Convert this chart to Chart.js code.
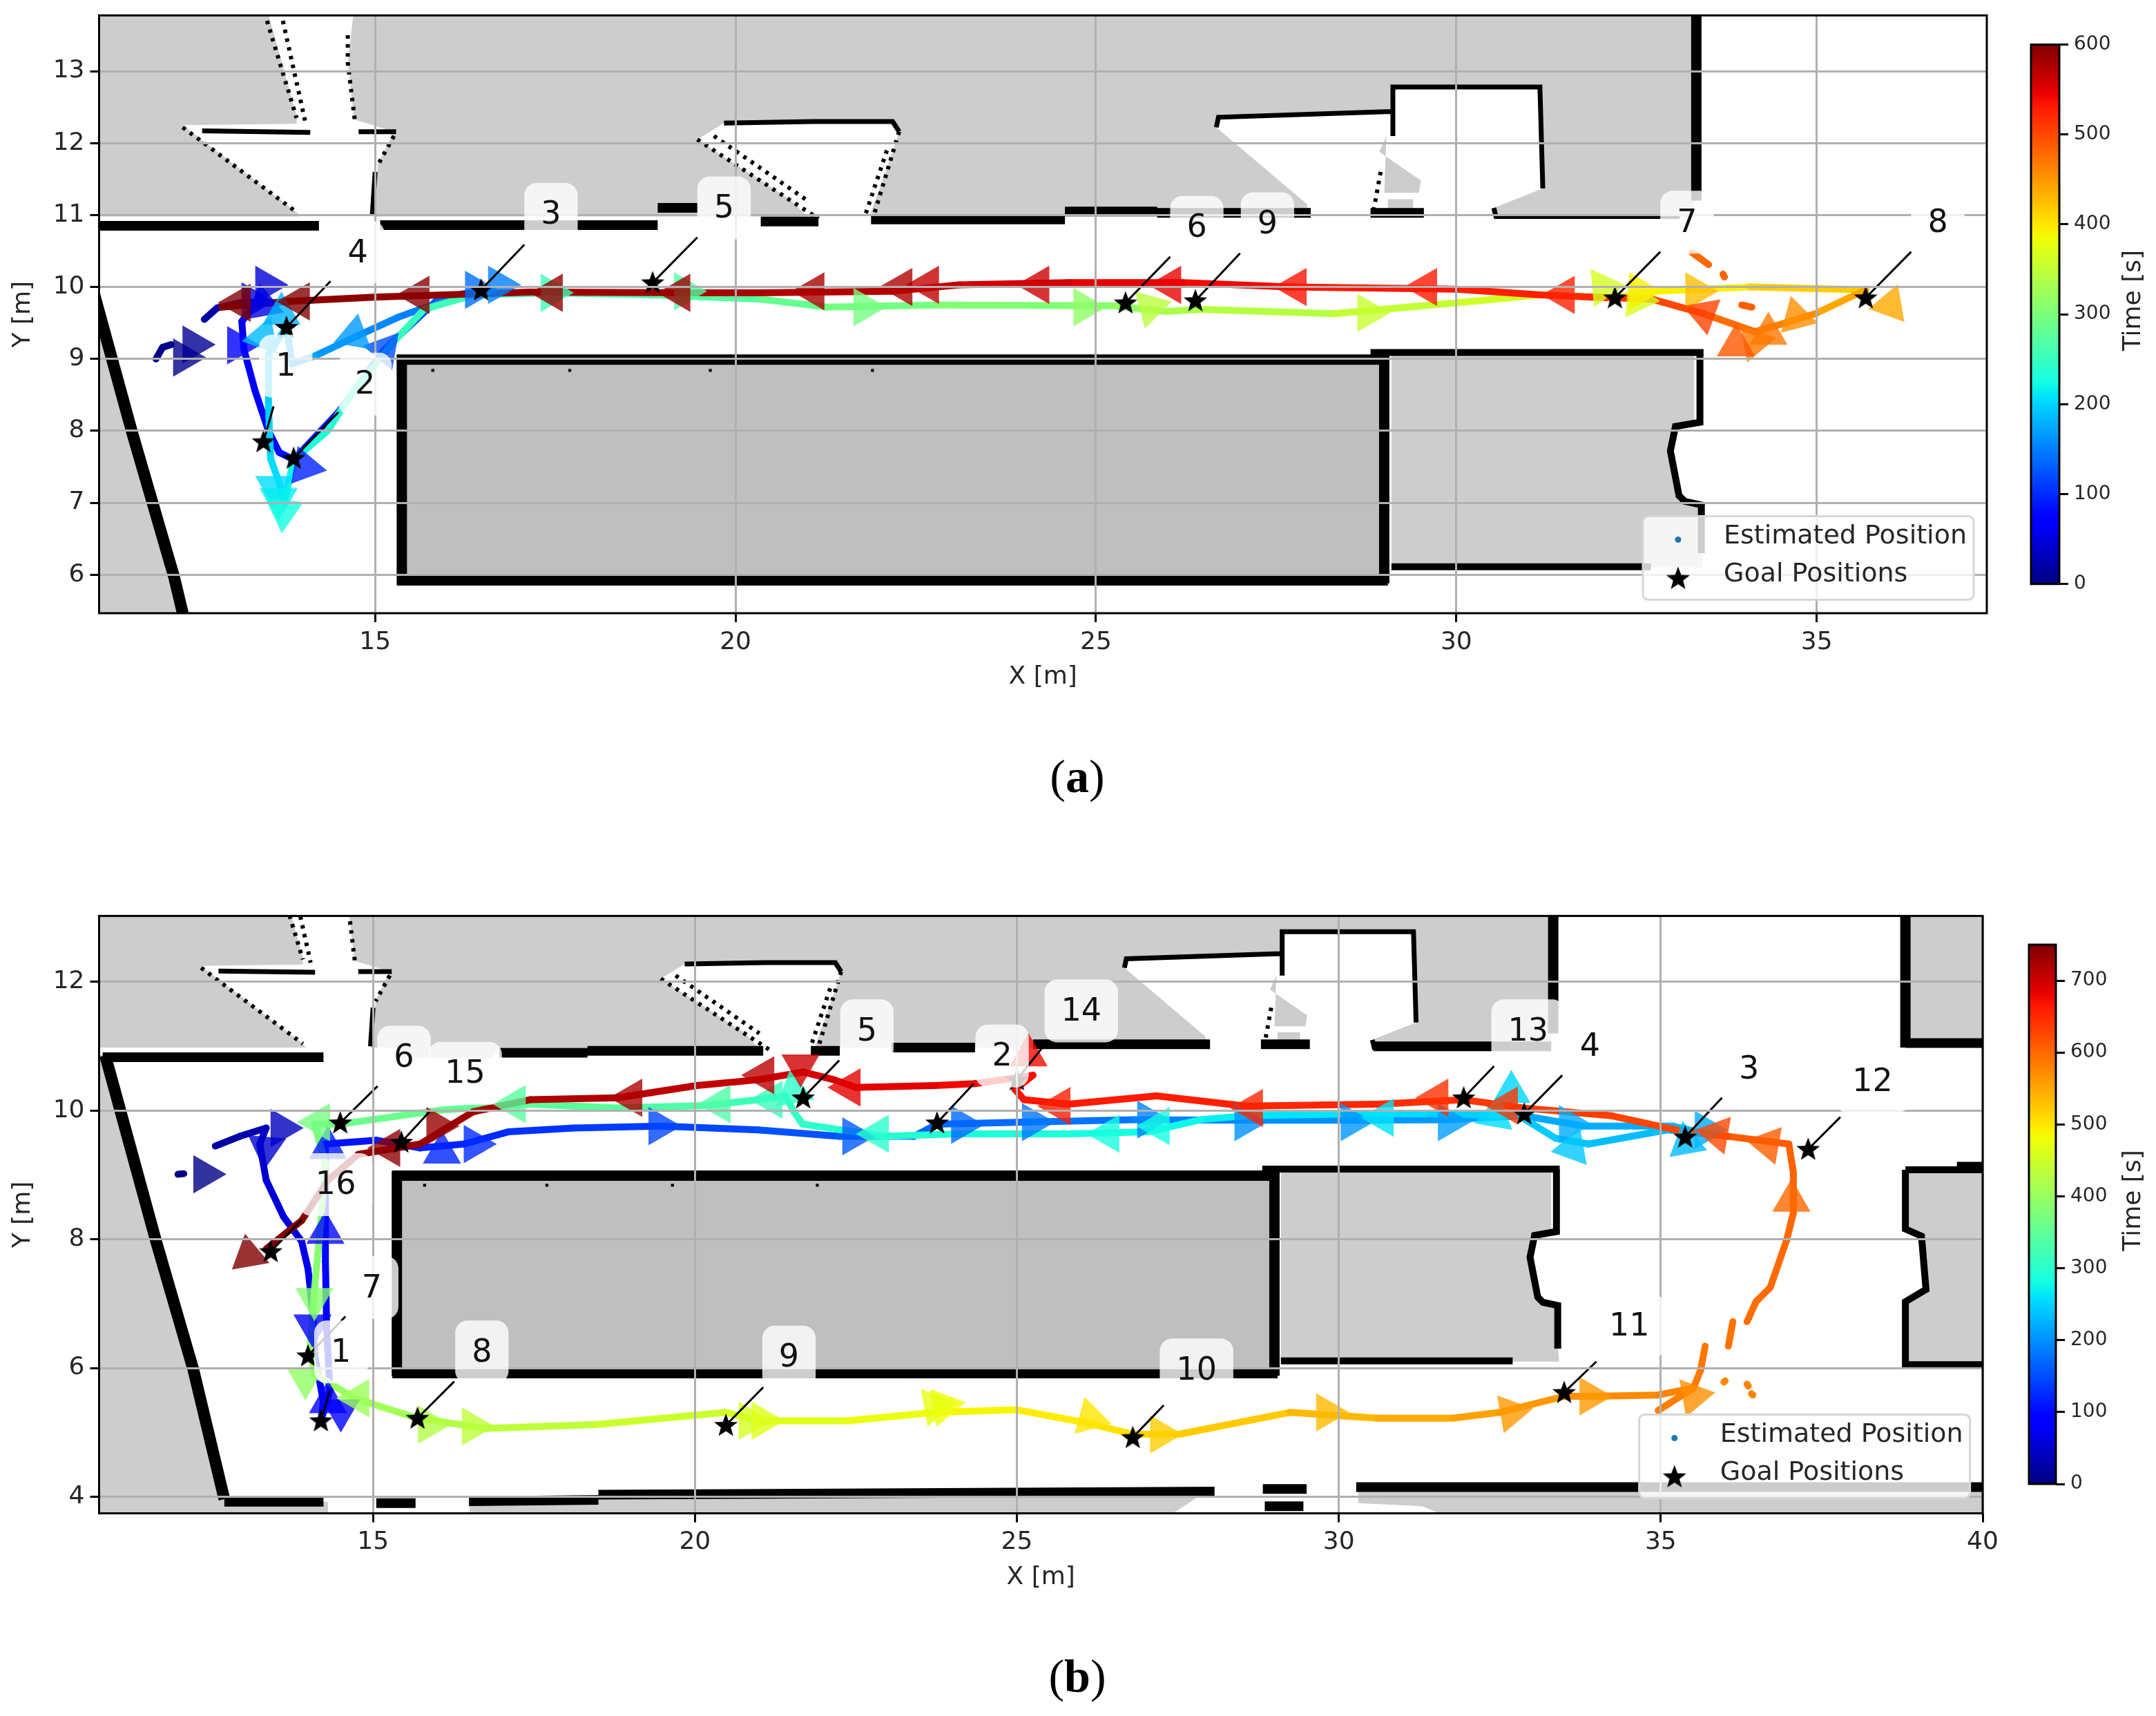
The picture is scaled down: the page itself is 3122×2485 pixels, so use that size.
<!DOCTYPE html>
<html>
<head>
<meta charset="utf-8">
<title>Robot trajectories</title>
<script src="https://cdn.jsdelivr.net/npm/chart.js@4/dist/chart.umd.min.js"></script>
<style>
  html, body { margin: 0; background: #fff; }
  body { position: relative; width: 3122px; height: 2485px; overflow: hidden; }
  canvas { position: absolute; }
  .caption { position: absolute; left: 1460px; width: 200px; text-align: center; font: 68px "Liberation Serif", serif; color: #000; }
</style>
</head>
<body>
<canvas id="mapA" width="2900" height="1040" style="left:0;top:0"></canvas>
<canvas id="barA" width="222" height="1040" style="left:2900px;top:0"></canvas>
<div class="caption" style="top:1085px">(<b>a</b>)</div>
<canvas id="mapB" width="2900" height="1040" style="left:0;top:1300px"></canvas>
<canvas id="barB" width="222" height="1040" style="left:2900px;top:1300px"></canvas>
<div class="caption" style="top:2388px">(<b>b</b>)</div>
<script>
// Axis ticks
const xTicksA = [15, 20, 25, 30, 35];
const yTicksA = [6, 7, 8, 9, 10, 11, 12, 13];
const timeTicksA = [0, 100, 200, 300, 400, 500, 600];
const xTicksB = [15, 20, 25, 30, 35, 40];
const yTicksB = [4, 6, 8, 10, 12];
const timeTicksB = [0, 100, 200, 300, 400, 500, 600, 700];
const legendLabels = ["Estimated Position", "Goal Positions"];

// Goals of run (a): star, end of the leader line, number label
const goalNamesA = ["1", "2", "3", "4", "5", "6", "7", "8", "9"];
const goalXA = [13.45, 13.87, 16.47, 13.77, 18.85, 25.41, 32.2, 35.68, 26.38];
const goalYA = [7.85, 7.62, 9.96, 9.44, 10.06, 9.78, 9.85, 9.85, 9.81];
const leadXA = [13.59, 14.49, 17.07, 14.38, 19.47, 26.03, 32.83, 36.31, 27.0];
const leadYA = [8.34, 8.26, 10.59, 10.08, 10.69, 10.42, 10.49, 10.49, 10.47];
const labelXA = [13.76, 14.86, 17.44, 14.76, 19.84, 26.4, 33.2, 36.68, 27.38];
const labelYA = [8.9, 8.65, 11.01, 10.48, 11.1, 10.83, 10.9, 10.9, 10.88];

// Goals of run (b)
const goalNamesB = ["1", "2", "3", "4", "5", "6", "7", "8", "9", "10", "11", "12", "13", "14", "15", "16"];
const goalXB = [13.99, 23.76, 35.38, 32.88, 21.68, 14.49, 14.19, 15.69, 20.48, 26.8, 33.5, 37.29, 31.94, 25.0, 15.44, 13.41];
const goalYB = [6.19, 9.81, 9.59, 9.95, 10.2, 9.81, 5.18, 5.22, 5.11, 4.92, 5.62, 9.4, 10.2, 10.48, 9.51, 7.81];
const leadXB = [14.57, 24.33, 35.95, 33.47, 22.24, 15.07, 14.33, 16.26, 21.06, 27.28, 34.0, 37.79, 32.41, 25.45, 15.9, 13.89];
const leadYB = [6.8, 10.42, 10.2, 10.55, 10.78, 10.38, 5.65, 5.79, 5.7, 5.42, 6.1, 9.9, 10.69, 11.05, 10.01, 8.3];
const labelXB = [14.5, 24.77, 36.37, 33.9, 22.67, 15.48, 14.98, 16.69, 21.46, 27.79, 34.51, 38.29, 32.94, 26.0, 16.43, 14.42];
const labelYB = [6.25, 10.85, 10.65, 11.0, 11.24, 10.83, 7.25, 6.25, 6.17, 5.97, 6.65, 10.45, 11.24, 11.55, 10.58, 8.85];

// Estimated path of run (a). null breaks the line
const pathXA = [11.96, 12.05, 12.17, null, 12.42, null, 12.63, 12.81, 13.12, 13.49, 13.4, 13.15, 13.18, 13.33, 13.52, 13.67, 13.87, 14.49, 15.13, 15.87, 16.47, 15.62, 15.32, 14.71, 14.16, 13.85, 13.77, 13.52, 13.52, 13.55, 13.67, 13.74, 13.87, 14.34, 14.71, 15.26, 15.68, 16.36, 17.45, 18.86, 20.35, 21.27, 22.8, 25.24, 25.97, 26.46, 28.3, 30.0, 31.16, 32.2, 32.78, 34.07, 35.68, 34.98, 34.53, 34.14, 33.43, 32.72, 31.88, 31.16, 30.0, 27.68, 26.2, 24.63, 23.1, 22.18, 20.35, 19.47, 17.15, 15.0, 13.79, 12.87, null, 33.27, 33.5, null, 33.7, 33.72, null, 33.96, 34.1];
const pathYA = [9.0, 9.16, 9.2, null, 9.44, null, 9.55, 9.71, 9.78, 9.8, 9.85, 9.52, 9.13, 8.57, 8.0, 7.7, 7.6, 8.26, 9.13, 9.83, 9.96, 9.69, 9.58, 9.3, 9.04, 8.93, 9.44, 9.07, 8.34, 7.61, 7.28, 7.0, 7.6, 8.0, 8.57, 9.24, 9.69, 9.89, 9.92, 9.89, 9.83, 9.72, 9.75, 9.74, 9.66, 9.69, 9.63, 9.78, 9.89, 9.85, 9.94, 10.0, 9.96, 9.63, 9.49, 9.38, 9.63, 9.83, 9.86, 9.89, 9.97, 10.0, 10.06, 10.06, 10.03, 9.94, 9.92, 9.92, 9.93, 9.86, 9.8, 9.72, null, 10.48, 10.31, null, 10.18, 10.14, null, 9.75, 9.72];
const pathTA = [3, 6, 9, null, 15, null, 20, 28, 35, 45, 50, 55, 62, 70, 78, 85, 92, 105, 120, 132, 142, 150, 155, 165, 172, 178, 185, 192, 198, 205, 212, 222, 232, 238, 245, 250, 255, 258, 262, 272, 285, 295, 305, 318, 335, 342, 352, 362, 368, 375, 392, 415, 440, 455, 465, 478, 500, 512, 520, 526, 532, 540, 546, 556, 566, 574, 580, 584, 590, 594, 598, 600, null, 480, 482, null, 484, 485, null, 487, 488];

// Direction arrows of run (a): position, heading in degrees, time
const arrowXA = [12.35, 12.48, 13.49, 13.3, 13.45, 13.1, 14.03, 15.13, 16.4, 16.72, 14.71, 13.45, 13.7, 13.6, 13.66, 13.73, 17.45, 19.3, 21.79, 24.84, 25.76, 28.78, 32.04, 32.52, 32.55, 33.33, 36.02, 34.72, 34.14, 33.88, 34.33, 33.43, 31.49, 29.58, 27.77, 26.03, 24.2, 22.67, 22.3, 21.08, 19.22, 17.45, 15.6, 13.94, 13.12];
const arrowYA = [9.02, 9.2, 10.03, 9.8, 9.75, 9.19, 7.5, 9.13, 9.96, 10.03, 9.33, 9.3, 9.63, 7.22, 7.05, 6.88, 9.92, 9.94, 9.72, 9.72, 9.72, 9.64, 10.0, 9.83, 9.94, 9.94, 9.75, 9.58, 9.24, 9.19, 9.35, 9.63, 9.89, 10.0, 10.0, 10.03, 10.03, 10.03, 10.0, 9.94, 9.92, 9.92, 9.89, 9.8, 9.78];
const arrowAngA = [0, 0, 0, 0, -20, 120, -10, 170, 0, 0, 200, 190, 90, 270, 270, 265, 0, 0, 0, 0, 15, 0, 5, -5, 0, 0, -50, 225, 250, 210, -30, 160, 180, 180, 180, 180, 180, 180, 180, 180, 180, 180, 180, 180, 180];
const arrowTA = [5, 10, 45, 48, 52, 70, 95, 120, 140, 150, 165, 185, 180, 205, 215, 225, 255, 270, 295, 315, 345, 355, 365, 365, 395, 425, 440, 455, 470, 490, 470, 505, 525, 530, 535, 545, 560, 565, 575, 578, 585, 590, 595, 598, 600];

// Estimated path of run (b)
const pathXB = [11.97, 12.06, null, 12.35, null, 12.55, 12.93, 13.34, 13.24, 13.34, 13.61, 13.89, 13.99, 14.06, 14.09, 14.23, 14.19, 14.33, 14.28, 14.26, 14.26, 14.26, 15.05, 15.73, 16.41, 17.1, 18.12, 19.49, 20.98, 22.24, 23.4, 23.76, 25.11, 26.83, 28.55, 30.27, 31.77, 32.87, 33.8, 35.18, 35.69, 35.1, 33.88, 33.37, 32.8, 31.35, 30.27, 28.55, 27.86, 27.04, 25.8, 24.08, 22.95, 21.67, 21.54, 21.4, 20.98, 20.17, 18.8, 17.44, 16.07, 14.49, 14.09, 14.26, 14.19, 14.09, 14.02, 14.09, 14.71, 15.69, 16.76, 18.46, 20.48, 20.98, 22.38, 23.73, 25.0, 26.07, 26.8, 27.52, 29.24, 30.61, 31.77, 32.5, 33.5, 33.95, 34.96, 35.51, 34.96, null, 35.51, 35.62, 35.69, null, 36.05, 36.12, null, 36.34, 36.48, 36.7, 36.95, 37.06, 37.06, 36.99, 36.05, 35.38, 34.24, 32.88, 31.94, 30.61, 28.55, 27.17, 25.8, 25.11, 24.97, 25.25, 24.35, 23.73, 22.5, 22.16, 21.68, 20.98, 20.03, 18.8, 17.44, 16.55, 15.73, 14.77, 14.3, 13.89, 13.34, null, 35.98, 36.0, null, 36.34, 36.36, null, 36.41, 36.43];
const pathYB = [9.01, 9.02, null, 9.3, null, 9.45, 9.6, 9.73, 9.48, 8.92, 8.35, 7.97, 7.54, 6.91, 6.22, 5.47, 5.18, 5.65, 6.6, 7.66, 9.1, 9.48, 9.54, 9.42, 9.48, 9.67, 9.73, 9.76, 9.7, 9.6, 9.6, 9.79, 9.82, 9.86, 9.85, 9.85, 9.86, 9.92, 9.76, 9.76, 9.64, 9.7, 9.48, 9.57, 9.92, 9.95, 9.95, 9.92, 9.86, 9.67, 9.64, 9.64, 9.6, 9.79, 9.98, 10.23, 10.17, 10.08, 10.04, 10.1, 10.01, 9.79, 9.79, 9.17, 8.29, 7.22, 6.28, 5.91, 5.53, 5.22, 5.06, 5.12, 5.31, 5.18, 5.18, 5.31, 5.35, 5.15, 4.97, 4.97, 5.31, 5.22, 5.22, 5.31, 5.56, 5.56, 5.58, 5.69, 5.34, null, 5.69, 5.97, 6.34, null, 6.34, 6.72, null, 6.72, 7.03, 7.25, 7.97, 8.41, 9.04, 9.48, 9.6, 9.67, 9.92, 10.04, 10.17, 10.1, 10.07, 10.23, 10.1, 10.17, 10.33, 10.55, 10.42, 10.39, 10.36, 10.48, 10.6, 10.48, 10.39, 10.2, 10.17, 9.98, 9.48, 9.32, 8.92, 8.29, 7.85, null, 5.78, 5.8, null, 5.75, 5.72, null, 5.6, 5.58];
const pathTB = [3, 5, null, 15, null, 22, 32, 45, 50, 56, 62, 68, 72, 76, 80, 84, 88, 92, 96, 100, 104, 108, 112, 118, 124, 130, 138, 146, 154, 162, 168, 172, 180, 190, 200, 206, 212, 218, 222, 226, 230, 233, 238, 242, 248, 256, 262, 270, 276, 282, 288, 296, 302, 308, 312, 315, 320, 335, 345, 352, 360, 370, 374, 380, 386, 392, 398, 402, 410, 424, 436, 448, 458, 466, 476, 486, 494, 504, 514, 522, 536, 546, 554, 562, 568, 572, 578, 582, 584, null, 586, 588, 590, null, 592, 594, null, 596, 597, 598, 600, 602, 605, 610, 622, 628, 634, 640, 646, 652, 658, 662, 666, 668, 670, 672, 676, 684, 688, 694, 700, 706, 712, 720, 726, 730, 736, 740, 742, 745, 750, null, 575, 576, null, 577, 578, null, 579, 580];

// Direction arrows of run (b)
const arrowXB = [12.38, 13.58, 13.34, 14.06, 14.5, 14.3, 14.26, 14.3, 16.07, 16.58, 19.45, 22.46, 24.15, 25.25, 27.04, 28.55, 30.2, 31.71, 33.59, 35.7, 35.4, 33.63, 32.68, 32.43, 30.68, 27.2, 26.42, 22.84, 21.53, 21.19, 20.38, 17.2, 14.16, 14.09, 13.95, 14.77, 15.87, 16.55, 20.85, 21.05, 23.87, 23.73, 26.14, 27.24, 29.82, 32.68, 33.91, 35.51, 37.03, 36.66, 35.87, 32.61, 31.53, 28.65, 25.66, 25.18, 22.4, 21.64, 21.06, 19.01, 16.0, 15.25, 13.07];
const arrowYB = [9.01, 9.73, 9.42, 6.66, 5.34, 5.47, 8.1, 9.42, 9.35, 9.48, 9.76, 9.6, 9.78, 9.82, 9.86, 9.82, 9.82, 9.82, 9.79, 9.7, 9.5, 9.42, 10.29, 9.92, 9.89, 9.76, 9.64, 9.64, 10.29, 10.17, 10.1, 10.1, 9.82, 7.07, 5.84, 5.53, 5.12, 5.09, 5.18, 5.18, 5.41, 5.41, 5.22, 4.97, 5.31, 5.31, 5.56, 5.56, 8.6, 9.48, 9.64, 10.08, 10.2, 10.04, 10.07, 10.86, 10.36, 10.7, 10.55, 10.2, 9.76, 9.42, 7.75];
const arrowAngB = [0, 0, 265, 270, 270, 90, 90, 90, 90, 0, 0, 0, 0, 0, 0, 0, 0, 0, 0, 0, 220, 190, 90, 320, 180, 180, 180, 180, 100, 180, 180, 180, 180, 270, 270, 300, 0, 0, 0, 0, 10, 10, -15, 0, 0, 10, 0, 250, 90, 170, 170, 180, 180, 180, 180, 90, 180, 270, 180, 180, 120, 180, 100];
const arrowTB = [5, 40, 50, 80, 85, 90, 100, 110, 120, 125, 145, 160, 170, 180, 190, 200, 205, 210, 220, 220, 232, 240, 250, 255, 260, 280, 285, 300, 305, 315, 335, 345, 370, 385, 395, 405, 425, 435, 455, 465, 480, 475, 500, 520, 535, 560, 560, 570, 600, 610, 625, 640, 645, 655, 660, 675, 685, 700, 710, 720, 735, 740, 750];

// Occupancy map, in metres. Grey areas, then cut-outs, then walls
const mapGrayTop = [[10.7, 13.9], [33.3, 13.9], [33.3, 10.98], [10.7, 10.98]];
const mapGrayLeft = [[10.7, 10.86], [10.84, 10.86], [12.69, 3.96], [12.78, 3.6], [10.7, 3.6]];
const mapGrayRight = [[29.1, 9.04], [33.3, 9.04], [33.3, 8.1], [33.0, 8.05], [32.95, 7.72], [33.07, 7.1], [33.37, 6.97], [33.42, 6.1], [29.1, 6.1]];
const mapGrayCentre = [[15.37, 8.99], [29.0, 8.99], [29.0, 5.92], [15.37, 5.92]];
const mapGrayFarTop = [[38.8, 13.1], [40.1, 13.1], [40.1, 11.1], [38.8, 11.1]];
const mapGrayFarMid = [[38.8, 9.08], [40.1, 9.08], [40.1, 6.05], [38.8, 6.05], [38.8, 7.03], [39.12, 7.22], [39.05, 8.05], [38.8, 8.16]];
const mapGrayBottom1 = [[12.7, 3.92], [14.3, 3.92], [14.3, 3.6], [12.7, 3.6]];
const mapGrayBottom2 = [[16.5, 3.95], [27.9, 4.05], [27.2, 3.6], [16.5, 3.6]];
const mapGrayBottom3 = [[30.3, 4.1], [40.1, 4.1], [40.1, 3.6], [31.9, 3.6], [31.3, 3.85], [30.3, 3.9]];
const mapGrayNotchB = [[15.4, 10.98], [16.96, 10.98], [16.85, 10.82], [15.4, 10.82]];
const mapWhite1 = [[13.49, 13.9], [13.91, 12.38], [13.91, 12.27], [12.33, 12.25], [13.91, 11.04], [14.1, 10.8], [14.95, 10.8], [15.04, 11.71], [15.26, 12.16], [14.71, 12.33], [14.62, 13.12], [14.71, 13.9]];
const mapWhite2 = [[19.47, 12.05], [19.84, 12.28], [22.18, 12.3], [22.27, 12.16], [22.12, 11.71], [21.88, 11.04], [21.88, 10.8], [21.15, 10.8], [20.78, 11.2]];
const mapWhite3 = [[26.67, 12.22], [26.7, 12.36], [29.09, 12.44], [29.12, 12.78], [31.16, 12.78], [31.2, 11.37], [30.52, 11.1], [30.52, 10.8], [27.95, 10.8], [27.93, 11.15]];
const mapGrayFin1 = [[29.03, 12.1], [28.93, 11.88], [29.51, 11.48], [29.48, 11.31], [29.0, 11.31]];
const mapGrayFin2 = [[29.05, 11.22], [29.4, 11.22], [29.4, 11.05], [29.05, 11.05]];

// Walls, grouped by drawn thickness
const wallsSlant = [
  [[10.84, 10.86], [11.63, 7.97], [12.21, 5.97], [12.69, 3.96]]
];
const wallsHeavy = [
  [[15.37, 9.06], [15.37, 5.87]],
  [[15.3, 8.99], [29.0, 8.99]],
  [[15.3, 5.92], [29.05, 5.92]],
  [[29.0, 9.12], [29.0, 5.88]],
  [[33.33, 13.9], [33.33, 11.2]],
  [[38.8, 13.1], [38.8, 10.98]]
];
const wallsMedium = [
  [[28.81, 9.09], [33.43, 9.09]],
  [[33.38, 9.09], [33.38, 8.12], [33.04, 8.06], [32.97, 7.72], [33.09, 7.1], [33.17, 7.02], [33.4, 6.97], [33.4, 6.3]],
  [[38.8, 9.08], [40.1, 9.08]],
  [[38.8, 9.08], [38.8, 8.16], [39.05, 8.05], [39.12, 7.22], [38.8, 7.03], [38.8, 6.05], [40.1, 6.05]],
  [[29.1, 6.11], [32.7, 6.11]]
];
const wallsThin = [
  [[26.67, 12.22], [26.7, 12.36], [29.09, 12.44]],
  [[29.12, 12.1], [29.12, 12.78], [31.16, 12.78], [31.2, 11.37]],
  [[30.52, 11.1], [30.55, 10.98], [33.1, 10.98]],
  [[19.84, 12.28], [21.08, 12.3], [22.18, 12.3], [22.27, 12.16]],
  [[12.6, 12.17], [14.1, 12.15]],
  [[14.77, 12.16], [15.29, 12.16]],
  [[15.0, 11.6], [14.96, 11.0]]
];
const wallsDotted = [
  [[12.33, 12.22], [13.91, 11.04]],
  [[13.5, 13.7], [13.91, 12.35]],
  [[13.72, 13.7], [14.03, 12.3]],
  [[14.62, 13.5], [14.62, 13.12], [14.72, 12.3]],
  [[15.26, 12.1], [15.04, 11.7]],
  [[19.47, 12.05], [21.15, 10.95]],
  [[19.7, 12.1], [21.0, 11.2]],
  [[22.27, 12.16], [21.92, 11.0]],
  [[22.1, 11.9], [21.8, 11.0]],
  [[28.95, 11.6], [28.85, 11.05]]
];
const wallBarsA = [
  [[11.0, 10.85], [14.22, 10.85]],
  [[15.07, 10.86], [18.92, 10.86]],
  [[20.35, 10.91], [21.15, 10.91]],
  [[21.88, 10.94], [24.57, 10.94]],
  [[24.57, 11.05], [25.85, 11.05]],
  [[25.85, 11.03], [27.98, 11.03]],
  [[28.81, 11.03], [29.55, 11.03]],
  [[18.92, 11.1], [19.47, 11.1]]
];
const wallBarsB = [
  [[10.8, 10.83], [14.23, 10.83]],
  [[16.96, 10.9], [18.33, 10.9]],
  [[18.33, 10.93], [21.06, 10.93]],
  [[21.8, 10.93], [22.25, 10.93]],
  [[23.05, 10.98], [24.35, 10.98]],
  [[25.25, 11.03], [28.0, 11.03]],
  [[28.79, 11.03], [29.55, 11.03]],
  [[30.54, 11.0], [33.3, 11.0]],
  [[12.69, 3.92], [14.23, 3.92]],
  [[15.05, 3.9], [15.66, 3.9]],
  [[16.49, 3.93], [18.5, 3.95]],
  [[18.5, 4.03], [28.07, 4.08]],
  [[28.82, 4.12], [29.5, 4.12]],
  [[28.85, 3.85], [29.45, 3.85]],
  [[30.27, 4.15], [40.1, 4.15]],
  [[38.8, 11.05], [40.1, 11.05]],
  [[39.6, 9.13], [40.1, 9.13]]
];
const mapSpecksX = [15.8, 17.7, 19.65, 21.9, 15.9];
const mapSpecksY = [8.84, 8.84, 8.84, 8.84, 5.98];

// jet colour map, same breakpoints as matplotlib
const jetR = [[0, 0], [0.35, 0], [0.66, 1], [0.89, 1], [1, 0.5]];
const jetG = [[0, 0], [0.125, 0], [0.375, 1], [0.64, 1], [0.91, 0], [1, 0]];
const jetB = [[0, 0.5], [0.11, 1], [0.34, 1], [0.65, 0], [1, 0]];
const jetStops = [0, 0.11, 0.125, 0.34, 0.35, 0.375, 0.64, 0.65, 0.66, 0.89, 0.91, 1];

function channel(table, v) {
  for (let i = 1; i < table.length; i++) {
    if (v <= table[i][0]) {
      const a = table[i - 1], b = table[i];
      return a[1] + (b[1] - a[1]) * (v - a[0]) / (b[0] - a[0]);
    }
  }
  return table[table.length - 1][1];
}
function jet(v, alpha) {
  const c = [jetR, jetG, jetB].map(t => Math.round(channel(t, v) * 255));
  return `rgba(${c[0]},${c[1]},${c[2]},${alpha === undefined ? 1 : alpha})`;
}

function zipPts(xs, ys) {
  return xs.map((x, i) => ({ x: x, y: ys[i] }));
}
function toPts(list) {
  return list.map(p => ({ x: p[0], y: p[1] }));
}
// several polylines into one dataset, null between them
function joinLines(lines) {
  const out = [];
  lines.forEach(l => {
    toPts(l).forEach(p => out.push(p));
    out.push({ x: null, y: null });
  });
  return out;
}

// filled five pointed star used for the goals
function makeStar(size) {
  const c = document.createElement("canvas");
  c.width = c.height = size;
  const g = c.getContext("2d");
  const R = size / 2, r = R * 0.42;
  g.beginPath();
  for (let i = 0; i < 10; i++) {
    const rad = i % 2 ? r : R;
    const a = -Math.PI / 2 + i * Math.PI / 5;
    g.lineTo(R + rad * Math.cos(a), R + 1 + rad * Math.sin(a));
  }
  g.closePath();
  g.fillStyle = "#000";
  g.fill();
  return c;
}
const starImg = makeStar(36);

Chart.defaults.font.family = "'DejaVu Sans'";
Chart.defaults.color = "#262626";
Chart.defaults.animation = false;

function fillSet(points, color) {
  return { data: toPts(points), showLine: true, fill: "shape", backgroundColor: color, borderWidth: 0, pointRadius: 0, clip: 0 };
}
function wallSet(lines, width, dash) {
  return { data: joinLines(lines), showLine: true, fill: false, borderColor: "#000", borderWidth: width, borderDash: dash || [], pointRadius: 0, clip: 0 };
}

function mapDatasets(isB) {
  const grey = "#cdcdcd";
  const list = [
    fillSet(mapGrayTop, grey),
    fillSet(mapGrayLeft, grey),
    fillSet(mapGrayRight, grey),
    fillSet(mapGrayCentre, "#bfbfbf"),
    fillSet(mapWhite1, "#fff"),
    fillSet(mapWhite2, "#fff"),
    fillSet(mapWhite3, "#fff"),
    fillSet(mapGrayFin1, grey),
    fillSet(mapGrayFin2, grey)
  ];
  if (isB) {
    [mapGrayFarTop, mapGrayFarMid, mapGrayBottom1, mapGrayBottom2, mapGrayBottom3, mapGrayNotchB].forEach(m => list.push(fillSet(m, grey)));
  }
  list.push(wallSet(wallsSlant, 17));
  list.push(wallSet(wallsHeavy, 15));
  list.push(wallSet(wallsMedium, 10));
  list.push(wallSet(wallsThin, 7));
  list.push(wallSet(wallsDotted, 6, [5, 8]));
  list.push(wallSet(isB ? wallBarsB : wallBarsA, 14));
  list.push({ data: zipPts(mapSpecksX, mapSpecksY), pointStyle: "rect", pointRadius: 3, backgroundColor: "#000", borderWidth: 0, showLine: false, clip: 0 });
  return list;
}

// numbered labels, plot frame, legend and anything else over the grid
function overlayPlugin(names, labelX, labelY, legendBottom, legendRight) {
  return {
    id: "overlay",
    afterDraw(chart) {
      const ctx = chart.ctx, a = chart.chartArea, sx = chart.scales.x, sy = chart.scales.y;
      ctx.save();
      ctx.strokeStyle = "#000";
      ctx.lineWidth = 3;
      ctx.strokeRect(a.left, a.top, a.right - a.left, a.bottom - a.top);

      ctx.textAlign = "center";
      ctx.textBaseline = "middle";
      ctx.font = "46px 'DejaVu Sans'";
      names.forEach((name, i) => {
        const px = sx.getPixelForValue(labelX[i]), py = sy.getPixelForValue(labelY[i]);
        const w = ctx.measureText(name).width + 48, h = 91;
        ctx.fillStyle = "rgba(255,255,255,0.8)";
        ctx.beginPath();
        ctx.roundRect(px - w / 2, py - h / 2, w, h, 18);
        ctx.fill();
        ctx.fillStyle = "#111";
        ctx.fillText(name, px, py + 2);
      });

      const bw = 479, bh = 121;
      const bx = a.right - legendRight - bw, by = a.bottom - legendBottom - bh;
      ctx.fillStyle = "rgba(255,255,255,0.8)";
      ctx.strokeStyle = "#d6d6d6";
      ctx.lineWidth = 3;
      ctx.beginPath();
      ctx.roundRect(bx, by, bw, bh, 8);
      ctx.fill();
      ctx.stroke();
      ctx.fillStyle = "#1f77b4";
      ctx.beginPath();
      ctx.arc(bx + 51, by + 34, 4.5, 0, Math.PI * 2);
      ctx.fill();
      ctx.drawImage(starImg, bx + 33, by + 72);
      ctx.font = "38px 'DejaVu Sans'";
      ctx.textAlign = "left";
      ctx.fillStyle = "#262626";
      ctx.fillText(legendLabels[0], bx + 117, by + 30);
      ctx.fillText(legendLabels[1], bx + 117, by + 85);
      ctx.restore();
    }
  };
}

function drawPanel(id, o) {
  const lead = [];
  o.goalX.forEach((x, i) => {
    lead.push({ x: x, y: o.goalY[i] }, { x: o.leadX[i], y: o.leadY[i] }, { x: null, y: null });
  });
  const T = o.pathT;
  // paint order: first in this list is at the bottom
  const sets = mapDatasets(o.isB).concat([
    {
      label: legendLabels[0],
      data: zipPts(o.pathX, o.pathY),
      showLine: true,
      borderWidth: 10,
      borderColor: jet(0.5),
      borderCapStyle: "round",
      borderJoinStyle: "round",
      pointRadius: 0,
      segment: { borderColor: c => jet(T[c.p0DataIndex] / o.tMax) }
    },
    {
      data: zipPts(o.arrowX, o.arrowY),
      showLine: false,
      pointStyle: "triangle",
      pointRadius: 32,
      pointBorderWidth: 0,
      pointRotation: o.arrowAng.map(a => 90 - a),
      pointBackgroundColor: o.arrowT.map(t => jet(t / o.tMax, 0.8))
    },
    { data: lead, showLine: true, borderColor: "#000", borderWidth: 3, pointRadius: 0 },
    { label: legendLabels[1], data: zipPts(o.goalX, o.goalY), showLine: false, pointStyle: starImg, pointRadius: 18 }
  ]);
  new Chart(document.getElementById(id), {
    type: "scatter",
    data: { datasets: sets.reverse() },
    options: {
      responsive: false,
      // big arrow markers would otherwise push the plot area in
      layout: { padding: o.padding, autoPadding: false },
      plugins: { legend: { display: false }, tooltip: { enabled: false } },
      scales: {
        x: {
          type: "linear",
          min: o.xMin,
          max: o.xMax,
          afterBuildTicks: s => { s.ticks = o.xTicks.map(v => ({ value: v })); },
          // fixed box so the plot area lands where the reference has it
          afterFit: s => { s.height = o.xAxisH; s.paddingLeft = s.paddingRight = 0; },
          grid: { color: "#b0b0b0", lineWidth: 3, z: 1, tickColor: "#000", tickWidth: 3, tickLength: 13 },
          border: { display: false },
          ticks: { font: { size: 36 }, padding: 8, maxRotation: 0, autoSkip: false, color: "#262626" },
          title: { display: true, text: "X [m]", font: { size: 36 }, color: "#262626", padding: { top: 0, bottom: 0 } }
        },
        y: {
          type: "linear",
          min: o.yMin,
          max: o.yMax,
          afterBuildTicks: s => { s.ticks = o.yTicks.map(v => ({ value: v })); },
          afterFit: s => { s.width = 143.5; s.paddingTop = s.paddingBottom = 0; },
          grid: { color: "#b0b0b0", lineWidth: 3, z: 1, tickColor: "#000", tickWidth: 3, tickLength: 13 },
          border: { display: false },
          ticks: { font: { size: 36 }, padding: 8, autoSkip: false, color: "#262626" },
          title: { display: true, text: "Y [m]", font: { size: 36 }, color: "#262626", padding: { top: 12, bottom: 0 } }
        }
      }
    },
    plugins: [overlayPlugin(o.names, o.labelX, o.labelY, o.legendBottom, o.legendRight)]
  });
}

function drawColorbar(id, ticks, tMax, pad) {
  new Chart(document.getElementById(id), {
    type: "bar",
    data: {
      labels: ["Time"],
      datasets: [{
        data: [[0, tMax]],
        barPercentage: 1,
        categoryPercentage: 1,
        backgroundColor: c => {
          const a = c.chart.chartArea;
          if (!a) return "#000";
          const g = c.chart.ctx.createLinearGradient(0, a.bottom, 0, a.top);
          jetStops.forEach(s => g.addColorStop(s, jet(s)));
          return g;
        }
      }]
    },
    options: {
      responsive: false,
      layout: { padding: { top: pad.top, bottom: pad.bottom, left: pad.left, right: 0 }, autoPadding: false },
      plugins: { legend: { display: false }, tooltip: { enabled: false } },
      scales: {
        x: { display: false },
        y: {
          position: "right",
          min: 0,
          max: tMax,
          afterBuildTicks: s => { s.ticks = ticks.map(v => ({ value: v })); },
          afterFit: s => { s.width = pad.axis; s.paddingTop = s.paddingBottom = 0; },
          grid: { drawOnChartArea: false, tickColor: "#000", tickWidth: 3, tickLength: 13 },
          border: { display: false },
          ticks: { font: { size: 28 }, padding: 8, autoSkip: false, color: "#262626" }
        }
      }
    },
    plugins: [{
      id: "barFrame",
      afterDraw(chart) {
        const ctx = chart.ctx, a = chart.chartArea;
        ctx.save();
        ctx.strokeStyle = "#000";
        ctx.lineWidth = 3;
        ctx.strokeRect(a.left, a.top, a.right - a.left, a.bottom - a.top);
        // library puts a right axis title reading downward, this one reads upward
        ctx.translate(190, (a.top + a.bottom) / 2 - 20);
        ctx.rotate(-Math.PI / 2);
        ctx.textAlign = "center";
        ctx.textBaseline = "middle";
        ctx.font = "36px 'DejaVu Sans'";
        ctx.fillStyle = "#262626";
        ctx.fillText("Time [s]", 0, 0);
        ctx.restore();
      }
    }]
  });
}

drawPanel("mapA", {
  isB: false, tMax: 600,
  xMin: 11.17, xMax: 37.36, yMin: 5.465, yMax: 13.776,
  xTicks: xTicksA, yTicks: yTicksA,
  padding: { top: 22.3, right: 23, bottom: 38, left: 0 }, xAxisH: 114,
  names: goalNamesA, goalX: goalXA, goalY: goalYA, leadX: leadXA, leadY: leadYA, labelX: labelXA, labelY: labelYA,
  pathX: pathXA, pathY: pathYA, pathT: pathTA,
  arrowX: arrowXA, arrowY: arrowYA, arrowAng: arrowAngA, arrowT: arrowTA,
  legendBottom: 19.5, legendRight: 19
});
drawPanel("mapB", {
  isB: true, tMax: 750,
  xMin: 10.745, xMax: 40, yMin: 3.741, yMax: 13.026,
  xTicks: xTicksB, yTicks: yTicksB,
  padding: { top: 26.4, right: 29, bottom: 34, left: 0 }, xAxisH: 114.5,
  names: goalNamesB, goalX: goalXB, goalY: goalYB, leadX: leadXB, leadY: leadYB, labelX: labelXB, labelY: labelYB,
  pathX: pathXB, pathY: pathYB, pathT: pathTB,
  arrowX: arrowXB, arrowY: arrowYB, arrowAng: arrowAngB, arrowT: arrowTB,
  legendBottom: 22, legendRight: 18.3
});
drawColorbar("barA", timeTicksA, 600, { top: 64.6, bottom: 194.3, left: 41, axis: 140 });
drawColorbar("barB", timeTicksB, 750, { top: 68, bottom: 191, left: 38, axis: 145 });
</script>
</body>
</html>
